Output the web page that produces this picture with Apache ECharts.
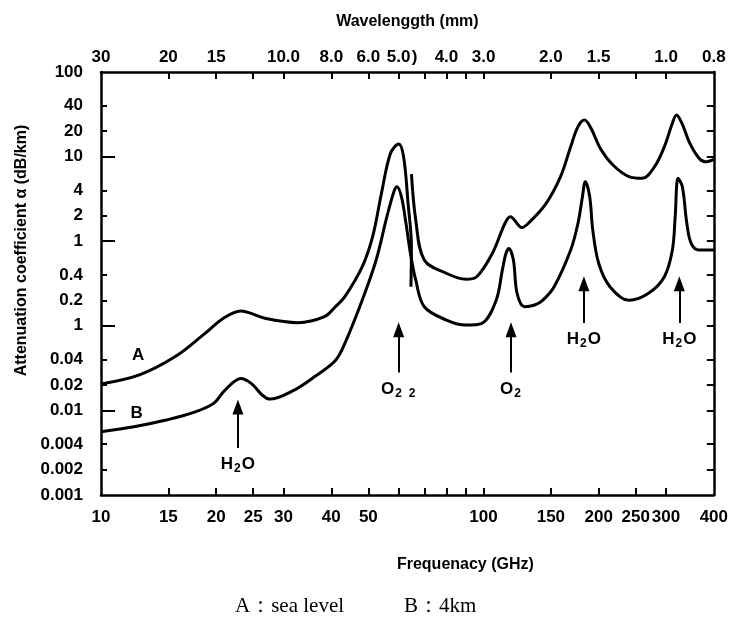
<!DOCTYPE html>
<html>
<head>
<meta charset="utf-8">
<title>Attenuation coefficient</title>
<script src="https://cdn.jsdelivr.net/npm/echarts@6/dist/echarts.min.js"></script>
<style>
  html, body { margin: 0; padding: 0; background: #fff; }
  #chart { width: 731px; height: 628px; }
</style>
</head>
<body>
<div id="chart"></div>
<script>
  // curve A (sea level) is drawn as two strokes in the figure
  var curveAFreq1 = [10, 12.6, 15.6, 18.5, 20.9, 23.2, 26.8, 32.7, 38.4, 41, 43.4, 48.2, 51.3, 54.1, 57.1, 60, 61.8, 63.5, 64.8, 64.6];
  var curveAVal1 = [0.0205, 0.0263, 0.043, 0.078, 0.123, 0.150, 0.123, 0.109, 0.128, 0.168, 0.221, 0.5, 1.13, 3.68, 10.9, 14.1, 10, 2.8, 0.86, 0.29];
  var curveAFreq2 = [64.8, 66.5, 70, 80, 90, 96, 105.5, 113.8, 117.5, 126, 131, 145, 159, 169, 176.6, 183.7, 191, 202, 218, 240, 260, 280, 297, 311.7, 319.5, 330, 346, 366, 380, 400];
  var curveAVal2 = [6.2, 1.78, 0.6, 0.417, 0.355, 0.38, 0.72, 1.63, 1.95, 1.45, 1.63, 2.7, 5.8, 13.1, 22.6, 27.1, 21.6, 12.5, 7.96, 5.8, 5.54, 7.6, 13.1, 24.8, 31, 24.8, 14.4, 9.55, 8.7, 9.3];

  // curve B (4km)
  var curveBFreq = [10, 12.2, 14.8, 17.4, 19.7, 21.1, 23.2, 24.7, 26.4, 27.6, 32, 36.2, 41, 43.4, 48.2, 52.4, 55.9, 58.3, 59.4, 61, 62.7, 64.4, 66.5, 70, 80, 90, 99, 107.9, 112, 114.5, 116.5, 119.7, 122.4, 128, 136, 142.7, 153, 169, 176.6, 181.4, 184.5, 189.5, 193, 200, 214, 240, 270, 297, 311.7, 317, 322.5, 331, 340, 349, 366, 400];
  var curveBVal = [0.0056, 0.0064, 0.0077, 0.0094, 0.0121, 0.0174, 0.0239, 0.0209, 0.0152, 0.0136, 0.0174, 0.0251, 0.0390, 0.062, 0.202, 0.6, 1.95, 3.85, 4.4, 3.36, 1.63, 0.72, 0.348, 0.168, 0.117, 0.102, 0.107, 0.2, 0.457, 0.72, 0.82, 0.6, 0.242, 0.168, 0.176, 0.2, 0.29, 0.787, 1.63, 3.36, 5.06, 3.36, 1.36, 0.548, 0.29, 0.2, 0.242, 0.38, 0.787, 1.95, 5.54, 4.4, 1.63, 0.944, 0.787, 0.787];

  // absorption line arrows
  var arrowFreq = [22.8, 60, 118, 183, 325];
  var arrowTail = [0.0036, 0.028, 0.028, 0.108, 0.108];
  var arrowHead = [0.011, 0.09, 0.09, 0.315, 0.315];
  var arrowText = ['H₂O', 'O₂ ₂', 'O₂', 'H₂O', 'H₂O'];

  var curveNames = ['A', 'B'];
  var curveNameFreq = [12.5, 12.4];
  var curveNameVal = [0.045, 0.0093];

  // axes
  var freqTicks = [15, 20, 25, 30, 40, 50, 60, 70, 80, 90, 100, 150, 200, 250, 300];
  var freqLabels = [10, 15, 20, 25, 30, 40, 50, 100, 150, 200, 250, 300, 400];
  var waveLabelFreq = [10, 15, 20, 30, 40, 50, 60, 66, 80, 100, 150, 200, 300, 400];
  var waveLabels = ['30', '20', '15', '10.0', '8.0', '6.0', '5.0', ')', '4.0', '3.0', '2.0', '1.5', '1.0', '0.8'];
  var attenTicks = [100, 40, 20, 10, 4, 2, 1, 0.4, 0.2, 0.1, 0.04, 0.02, 0.01, 0.004, 0.002, 0.001];
  var attenLabels = ['100', '40', '20', '10', '4', '2', '1', '0.4', '0.2', '1', '0.04', '0.02', '0.01', '0.004', '0.002', '0.001'];
  var attenMajor = [10, 1, 0.1, 0.01];
  var attenMinor = [40, 20, 4, 2, 0.4, 0.2, 0.04, 0.02, 0.004, 0.002];

  var SANS = 'Liberation Sans, DejaVu Sans, Arial, sans-serif';

  function zip(xs, ys) {
    return xs.map(function(x, i) { return [x, ys[i]]; });
  }

  function lookup(values, labels) {
    return function(v) {
      for (var i = 0; i < values.length; i++) {
        if (Math.abs(v - values[i]) <= values[i] * 1e-4) {
          return labels[i];
        }
      }
      return '';
    };
  }

  // 'H₂O' -> rich text with a real subscript
  function toRich(text) {
    return text.split('').map(function(ch) {
      return ch === '₂' ? '{s|2}' : '{n|' + ch + '}';
    }).join('');
  }

  var lineStyle = { color: '#000', width: 2.5 };
  var tickStyle = { color: '#000', width: 2 };
  var labelStyle = { color: '#000', fontFamily: SANS, fontWeight: 'bold', fontSize: 17 };
  var nameStyle = { color: '#000', fontFamily: SANS, fontWeight: 'bold', fontSize: 16 };

  function curve(name, data) {
    return {
      name: name,
      type: 'line',
      data: data,
      smooth: 0.35,
      showSymbol: false,
      symbol: 'none',
      lineStyle: { color: '#000', width: 3 },
      silent: true
    };
  }

  var arrowLines = arrowFreq.map(function(f, i) {
    return [
      { coord: [f, arrowTail[i]], name: toRich(arrowText[i]) },
      { coord: [f, arrowHead[i]] }
    ];
  });

  var chart = echarts.init(document.getElementById('chart'));

  chart.setOption({
    backgroundColor: '#fff',
    animation: false,
    textStyle: { fontFamily: SANS },
    grid: { left: 101, right: 16, top: 72, bottom: 133 },
    xAxis: [
      {
        type: 'log', position: 'bottom', min: 10, max: 400,
        axisLine: { lineStyle: lineStyle },
        axisTick: { inside: true, length: 7, lineStyle: tickStyle, customValues: freqTicks },
        axisLabel: Object.assign({ margin: 14, customValues: freqLabels,
          formatter: lookup(freqLabels, freqLabels.map(String)) }, labelStyle),
        splitLine: { show: false },
        minorTick: { show: false },
        name: 'Frequenacy (GHz)', nameLocation: 'middle', nameGap: 62,
        nameTextStyle: Object.assign({ padding: [0, 0, 0, 116] }, nameStyle)
      },
      {
        type: 'log', position: 'top', min: 10, max: 400,
        axisLine: { lineStyle: lineStyle },
        axisTick: { inside: true, length: 7, lineStyle: tickStyle, customValues: freqTicks },
        axisLabel: Object.assign({ margin: 6, customValues: waveLabelFreq,
          formatter: lookup(waveLabelFreq, waveLabels) }, labelStyle),
        splitLine: { show: false },
        name: 'Wavelenggth (mm)', nameLocation: 'middle', nameGap: 42,
        nameTextStyle: nameStyle
      }
    ],
    yAxis: [
      {
        type: 'log', position: 'left', min: 0.001, max: 100,
        axisLine: { lineStyle: lineStyle },
        axisTick: { inside: true, length: 6, lineStyle: tickStyle, customValues: attenMinor },
        axisLabel: Object.assign({ margin: 18, customValues: attenTicks,
          formatter: lookup(attenTicks, attenLabels) }, labelStyle),
        splitLine: { show: false },
        name: 'Attenuation coefficient α (dB/km)', nameLocation: 'middle', nameGap: 66,
        nameTextStyle: Object.assign({ padding: [0, 0, 0, 66] }, nameStyle)
      },
      {
        type: 'log', position: 'left', min: 0.001, max: 100,
        axisLine: { show: false },
        axisTick: { inside: true, length: 14, lineStyle: tickStyle, customValues: attenMajor },
        axisLabel: { show: false },
        splitLine: { show: false }
      },
      {
        type: 'log', position: 'right', min: 0.001, max: 100,
        axisLine: { lineStyle: lineStyle },
        axisTick: { inside: true, length: 7, lineStyle: tickStyle, customValues: attenTicks.slice(1, -1) },
        axisLabel: { show: false },
        splitLine: { show: false }
      }
    ],
    series: [
      curve('A', zip(curveAFreq1, curveAVal1)),
      curve('A', zip(curveAFreq2, curveAVal2)),
      curve('B', zip(curveBFreq, curveBVal)),
      {
        name: 'curve names',
        type: 'scatter',
        data: curveNameFreq.map(function(f, i) { return { value: [f, curveNameVal[i]], name: curveNames[i] }; }),
        symbolSize: 1,
        itemStyle: { color: 'rgba(0,0,0,0)', opacity: 1 },
        label: { show: true, position: 'inside', formatter: '{b}', color: '#000', opacity: 1,
          fontFamily: SANS, fontWeight: 'bold', fontSize: 17 },
        silent: true
      },
      {
        name: 'arrows',
        type: 'line',
        data: [],
        markLine: {
          silent: true,
          symbol: ['none', 'triangle'],
          symbolSize: [11, 15],
          lineStyle: { color: '#000', width: 2, type: 'solid' },
          label: {
            show: true, position: 'start', distance: 6, formatter: '{b}', color: '#000',
            fontFamily: SANS, fontWeight: 'bold', fontSize: 17,
            rich: {
              n: { color: '#000', fontFamily: SANS, fontWeight: 'bold', fontSize: 17 },
              s: { color: '#000', fontFamily: SANS, fontWeight: 'bold', fontSize: 12, padding: [9, 1, 0, 1] }
            }
          },
          data: arrowLines
        }
      }
    ],
    graphic: [
      { type: 'text', left: 235, top: 596,
        style: { text: 'A：sea level', fill: '#000', font: '21px "Liberation Serif", "DejaVu Serif", serif' } },
      { type: 'text', left: 404, top: 596,
        style: { text: 'B：4km', fill: '#000', font: '21px "Liberation Serif", "DejaVu Serif", serif' } }
    ]
  });
</script>
</body>
</html>
